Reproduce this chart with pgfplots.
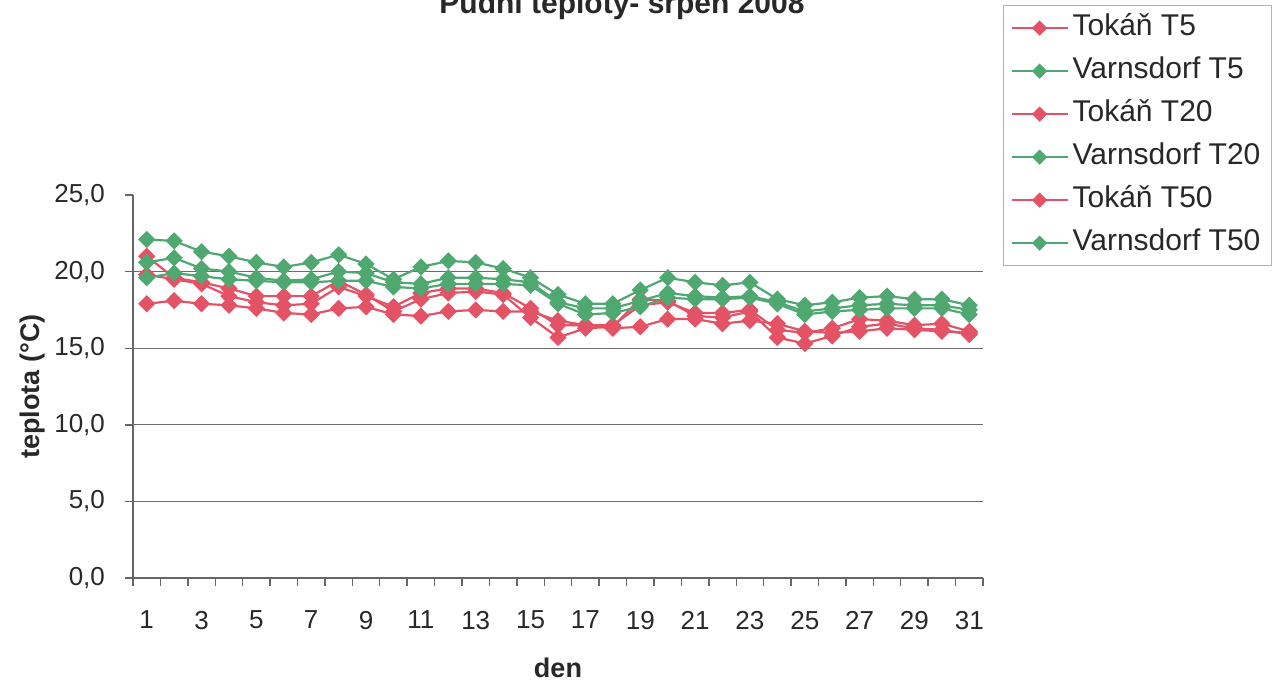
\documentclass[border=0pt]{standalone}
\usepackage{pgfplots}
\usepackage{pgfplotstable}
\pgfplotsset{compat=1.18}
\usepackage{fontspec}
\setmainfont{Liberation Sans}
\definecolor{tred}{RGB}{228,82,102}
\definecolor{vgreen}{RGB}{78,168,112}
\definecolor{txt}{RGB}{40,40,40}
\pgfplotstableread{
d tA tB tC vA vB vC
1 21.0 19.8 17.9 22.1 20.6 19.6
2 19.6 19.5 18.1 22.0 20.9 19.9
3 19.3 19.2 17.9 21.3 20.2 19.7
4 18.9 18.4 17.8 21.0 20.0 19.5
5 18.4 18.0 17.6 20.6 19.6 19.4
6 18.4 17.8 17.3 20.3 19.4 19.3
7 18.4 17.9 17.2 20.6 19.5 19.3
8 19.4 19.0 17.6 21.1 20.0 19.4
9 18.5 18.4 17.7 20.5 19.9 19.4
10 17.4 17.7 17.2 19.5 19.3 19.0
11 18.2 18.6 17.1 20.3 19.2 18.9
12 18.6 18.9 17.4 20.7 19.6 19.2
13 18.7 18.9 17.5 20.6 19.6 19.2
14 18.5 18.6 17.4 20.2 19.5 19.2
15 17.0 17.6 17.4 19.6 19.3 19.1
16 15.7 16.5 16.8 18.5 18.0 17.9
17 16.3 16.5 16.5 17.9 17.6 17.2
18 16.4 16.5 16.3 17.9 17.6 17.3
19 18.2 17.8 16.4 18.8 18.1 17.7
20 18.1 18.0 16.9 19.6 18.6 18.3
21 17.1 17.3 16.9 19.3 18.4 18.2
22 17.0 17.3 16.6 19.1 18.3 18.2
23 17.4 17.5 16.8 19.3 18.4 18.3
24 15.7 16.2 16.6 18.2 18.0 17.9
25 15.3 16.0 16.1 17.8 17.4 17.2
26 15.8 16.3 16.0 18.0 17.6 17.4
27 16.4 16.9 16.1 18.3 17.8 17.5
28 16.6 16.8 16.3 18.4 17.9 17.6
29 16.3 16.5 16.2 18.2 17.8 17.6
30 16.2 16.6 16.1 18.2 17.8 17.6
31 15.9 16.1 16.0 17.8 17.5 17.2
}\data
\begin{document}
\begin{tikzpicture}
\begin{axis}[
  at={(66.5pt,54pt)}, anchor=south west,
  scale only axis, width=425pt, height=191.5pt,
  xmin=0.5, xmax=31.5, ymin=0, ymax=25,
  axis lines=left,
  axis line style={-, draw=gray!80!black, line width=0.7pt},
  xtick={1,3,...,31},
  minor xtick={0.5,1.5,...,31.5},
  ytick={0,5,...,25},
  extra y ticks={5,10,15,20},
  extra y tick labels={},
  extra y tick style={grid=major, major tick length=0pt},
  grid style={draw=gray!85!black, line width=0.6pt},
  tick align=outside,
  major tick length=4pt, minor tick length=4pt,
  every major x tick/.style={draw=none},
  tick style={draw=gray!80!black, line width=0.7pt},
  /pgf/number format/assume math mode=true,
  tick label style={font=\fontsize{13}{15}\selectfont, text=txt},
  xticklabel style={yshift=-9pt},
  yticklabel style={xshift=-6.5pt, /pgf/number format/.cd, fixed, fixed zerofill, precision=1, use comma},
  xlabel={den}, ylabel={teplota (°C)},
  label style={font=\bfseries\fontsize{13.5}{16}\selectfont, text=txt},
  xlabel style={at={(axis description cs:0.5,-0.235)}, anchor=center},
  ylabel style={at={(axis description cs:-0.118,0.5)}, anchor=center},
  every axis plot/.append style={line width=1.1pt, mark=square*, mark size=2.5pt, mark options={rotate=45, solid}},
  legend style={at={(axis description cs:1.0235,1.496)}, anchor=north west,
    draw=gray!60, line width=0.6pt, fill=white,
    font=\fontsize{15}{18}\selectfont, text=txt,
    nodes={text height=11pt, text depth=3.5pt, inner ysep=2pt},
    row sep=3pt, inner xsep=3.5pt, inner ysep=2pt},
  legend cell align=left,
  legend image code/.code={\draw[mark repeat=2, mark phase=2, #1, line width=1pt, mark size=2.2pt] plot coordinates {(0pt,0pt) (14pt,0pt) (28pt,0pt)};},
]
\addplot[color=tred] table[x=d, y=tA] {\data};
\addlegendentry{Tokáň T5}
\addplot[color=vgreen] table[x=d, y=vA] {\data};
\addlegendentry{Varnsdorf T5}
\addplot[color=tred] table[x=d, y=tB] {\data};
\addlegendentry{Tokáň T20}
\addplot[color=vgreen] table[x=d, y=vB] {\data};
\addlegendentry{Varnsdorf T20}
\addplot[color=tred] table[x=d, y=tC] {\data};
\addlegendentry{Tokáň T50}
\addplot[color=vgreen] table[x=d, y=vC] {\data};
\addlegendentry{Varnsdorf T50}
\end{axis}
\node[anchor=base, font=\bfseries\fontsize{15}{18}\selectfont, text=txt] at (311pt,336.3pt) {Půdní teploty- srpen 2008};
\pgfresetboundingbox
\useasboundingbox (0,0) rectangle (637.5pt,343pt);
\end{tikzpicture}
\end{document}
